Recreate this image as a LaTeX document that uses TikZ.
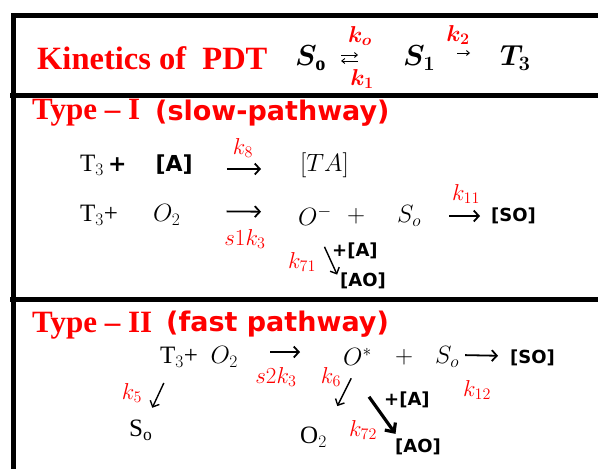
\documentclass[tikz,border=0pt]{standalone}
\usepackage{fix-cm}
\usepackage{amsmath,amssymb}
\usepackage{fontspec}
\setmainfont{Liberation Serif}
\setsansfont{DejaVu Sans}
\usepackage{tikz}
\usetikzlibrary{arrows.meta,positioning}
\tikzset{
    quadro/.style={line width=4.5pt},
    titulo/.style={
        anchor=west,
        inner sep=0pt,
        text=red,
        font=\bfseries\fontsize{32.5}{34}\selectfont
    },
    tipo/.style={titulo, font=\bfseries\fontsize{31}{33}\selectfont},
    via/.style={
        anchor=west,
        inner sep=0pt,
        text=red,
        font=\sffamily\bfseries\fontsize{27}{29}\selectfont
    },
    especie/.style={anchor=west, inner sep=0pt, font=\fontsize{25}{27}\selectfont},
    cabeca/.style={especie, font=\bfseries\fontsize{29}{31}\selectfont},
    produto/.style={anchor=west, inner sep=0pt, font=\sffamily\bfseries\fontsize{18}{20}\selectfont},
    taxa/.style={inner sep=0pt, text=red, font=\fontsize{23}{25}\selectfont},
    reacao/.style={-{Straight Barb[length=5pt,width=11pt]}, line width=1.8pt},
    fino/.style={-{Straight Barb[length=3pt,width=5pt]}, line width=0.9pt},
    desvio/.style={-{Straight Barb[length=5pt,width=10pt]}, line width=1.4pt},
    forte/.style={-{Straight Barb[length=7pt,width=13pt]}, line width=3.2pt}
}

\begin{document}
\begin{tikzpicture}[x=1pt, y=1pt]
    \useasboundingbox (0,0) rectangle (598,-469);
    % quadro
    \draw[quadro] (598,-15.5) -- (13.5,-15.5) -- (13.5,-469);
    \draw[quadro] (10,-95.5) -- (598,-95.5);
    \draw[quadro] (10,-299.5) -- (598,-299.5);

    % cabecalho
    \node[titulo] (cinetica) at (37,-58) {Kinetics of\enspace PDT};
    \node[cabeca] (S0) at (295,-58) {$\boldsymbol{S_{\mathrm{o}}}$};
    \node[cabeca] (S1) at (403,-58) {$\boldsymbol{S_1}$};
    \node[cabeca] (T3) at (500,-58) {$\boldsymbol{T_3}$};
    \node[taxa] (ko) at (360,-36) {$\boldsymbol{k_o}$};
    \node[taxa] (k1) at (362,-79) {$\boldsymbol{k_1}$};
    \node[taxa] (k2) at (458,-35) {$\boldsymbol{k_2}$};
    \draw[fino, shorten <=15pt, shorten >=45pt] ([yshift=3pt]S0.east) -- ([yshift=3pt]S1.west);
    \draw[fino, shorten <=45pt, shorten >=15pt] ([yshift=-3pt]S1.west) -- ([yshift=-3pt]S0.east);
    \draw[fino, shorten <=22pt, shorten >=30pt] ([yshift=5pt]S1.east) -- ([yshift=5pt]T3.west);

    % tipo I
    \node[tipo] (tipoI) at (32,-113) {Type -- I};
    \node[via] (lenta) at (155,-113) {(slow-pathway)};
    \node[especie] (r1a) at (80,-165) {T$_3$\,\textsf{\textbf{\fontsize{22}{24}\selectfont+\hspace{29pt}[A]}}};
    \node[especie] (TA) at (300,-165) {$[TA]$};
    \node[taxa] (k8) at (243,-148) {$k_8$};
    \draw[reacao, shorten <=34pt, shorten >=39pt] ([yshift=-4pt]r1a.east) -- ([yshift=-4pt]TA.west);

    \node[especie] (r2a) at (80,-215) {T$_3$+\hspace{35pt}$O_2$};
    \node[especie] (Om) at (298,-216) {$O^-$};
    \node[especie] (mais1) at (347,-216) {$+$};
    \node[especie] (So1) at (397,-216) {$S_o$};
    \node[produto] (SO1) at (491,-216) {[SO]};
    \node[taxa] (s1k3) at (245,-239) {$s1k_3$};
    \node[taxa] (k11) at (466,-194) {$k_{11}$};
    \draw[reacao, shorten <=46pt, shorten >=37pt] ([yshift=4pt]r2a.east) -- ([yshift=4pt]Om.west);
    \draw[reacao, shorten <=28pt, shorten >=11pt] (So1.east) -- (SO1.west);

    \node[produto] (A1) at (332,-251) {+[A]};
    \node[produto] (AO1) at (340,-281) {[AO]};
    \node[taxa] (k71) at (302,-262) {$k_{71}$};
    \draw[desvio, shorten <=23pt, shorten >=7pt] (Om.south) -- (AO1.west);

    % tipo II
    \node[tipo] (tipoII) at (32,-326) {Type -- II};
    \node[via] (rapida) at (166,-324) {(fast pathway)};
    \node[especie] (r3a) at (160,-357) {T$_3$+\ \ $O_2$};
    \node[especie] (Ost) at (343,-357) {$O^*$};
    \node[especie] (mais2) at (395,-357) {$+$};
    \node[especie] (So2) at (435,-357) {$S_o$};
    \node[produto] (SO2) at (510,-358) {[SO]};
    \node[taxa] (s2k3) at (276,-377) {$s2k_3$};
    \node[taxa] (k6) at (331,-377) {$k_6$};
    \node[taxa] (k12) at (477,-390) {$k_{12}$};
    \draw[reacao, shorten <=32pt, shorten >=43pt] ([yshift=5pt]r3a.east) -- ([yshift=5pt]Ost.west);
    \draw[reacao, shorten <=6pt, shorten >=12pt] ([yshift=2pt]So2.east) -- ([yshift=2pt]SO2.west);

    \node[especie] (S0b) at (129,-430) {S$_{\mathrm{o}}$};
    \node[taxa] (k5) at (132,-393) {$k_5$};
    \draw[desvio, shorten <=17pt, shorten >=13pt] ([xshift=11pt]r3a.south west) -- ([xshift=6pt]S0b.north);

    \node[especie] (O2b) at (300,-437) {O$_2$};
    \draw[desvio, shorten <=14pt, shorten >=23pt] (Ost.south) -- (O2b.north east);

    \node[produto] (A2) at (384,-400) {+[A]};
    \node[produto] (AO2) at (395,-447) {[AO]};
    \node[taxa] (k72) at (363,-430) {$k_{72}$};
    \coordinate (a72) at ([shift={(-3pt,-31pt)}]Ost.south east);
    \draw[forte, shorten >=6pt] (a72) -- ([xshift=4pt]AO2.north west);
\end{tikzpicture}
\end{document}
